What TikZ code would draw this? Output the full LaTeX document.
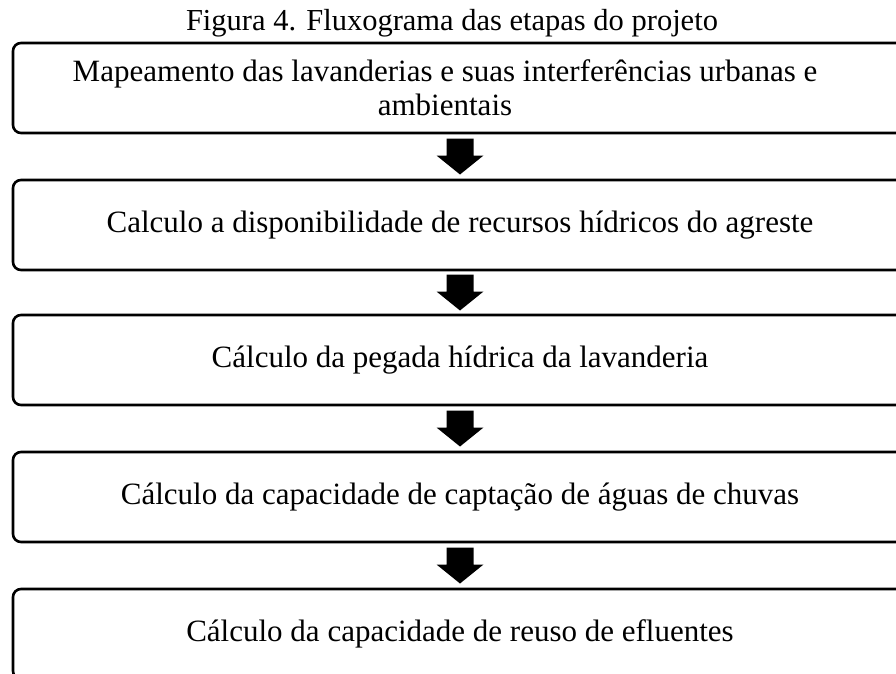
\documentclass[tikz,border=0pt]{standalone}
\usepackage{fontspec}
\setmainfont{Liberation Serif}
\usetikzlibrary{calc}

\tikzset{
    etapa/.style={draw, rectangle, rounded corners=8pt, line width=2.6pt,
        minimum width=894pt, minimum height=90pt, inner sep=0pt, align=center,
        font=\fontsize{31}{34}\selectfont},
    seta/.style={fill=black}
}

\begin{document}
\begin{tikzpicture}[x=1pt, y=-1pt]
    \useasboundingbox (0,0) rectangle (896,674);
    \clip (0,0) rectangle (896,674);
    \node[font=\fontsize{30.5}{34}\selectfont] (titulo) at (452,23) {Figura 4. Fluxograma das etapas do projeto};
    \node[etapa] (E1) at (460,88) {Mapeamento das lavanderias e suas interferências urbanas e\hspace*{30pt}\\ambientais\hspace*{30pt}};
    \node[etapa] (E2) at (460,225) {Calculo a disponibilidade de recursos hídricos do agreste};
    \node[etapa] (E3) at (460,360) {Cálculo da pegada hídrica da lavanderia};
    \node[etapa] (E4) at (460,497) {Cálculo da capacidade de captação de águas de chuvas};
    \node[etapa] (E5) at (460,634) {Cálculo da capacidade de reuso de efluentes};
    \foreach \a/\b in {E1/E2, E2/E3, E3/E4, E4/E5} {
        \coordinate (m) at ($(\a.south)!0.5!(\b.north)$);
        \fill[seta] ($(m)+(-13.5,-18)$) -- ($(m)+(13.5,-18)$) -- ($(m)+(13.5,-1)$)
            -- ($(m)+(23.5,-1)$) -- ($(m)+(0,18)$) -- ($(m)+(-23.5,-1)$)
            -- ($(m)+(-13.5,-1)$) -- cycle;
    }
\end{tikzpicture}
\end{document}
